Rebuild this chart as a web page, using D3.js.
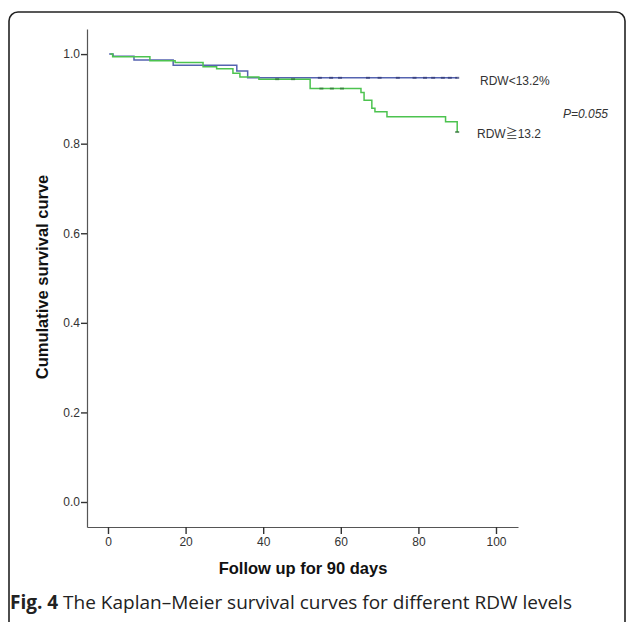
<!DOCTYPE html>
<html>
<head>
<meta charset="utf-8">
<script src="https://cdn.jsdelivr.net/npm/d3@7"></script>
<style>
  body { margin: 0; background: #fff; }
  svg { display: block; }
  .tick text { font-family: Arial, "Liberation Sans", sans-serif; font-size: 12px; fill: #333; }
</style>
</head>
<body>
<script>
(function() {

//data: follow-up day and cumulative survival
    var lowTimes = [0.3, 1.3, 6.7, 16.8, 33.2, 36, 90];
    var lowSurv = [1.0, 0.995, 0.987, 0.975, 0.962, 0.947, 0.947];
    var highTimes = [0.6, 1.2, 10.8, 17.3, 24.5, 28, 32.2, 34, 38.9, 52.1, 65.2, 66, 68, 68.8, 71.9, 87, 90];
    var highSurv = [1.0, 0.994, 0.985, 0.981, 0.972, 0.967, 0.957, 0.949, 0.944, 0.923, 0.914, 0.897, 0.879, 0.871, 0.860, 0.849, 0.826];
    //censored cases
    var lowCensor = [54.6, 57.5, 59.8, 67, 70, 74.7, 79, 81.7, 83.8, 86.3, 88.1, 90];
    var highCensor = [43.6, 47.7, 55, 57.7, 60.3, 90];

    var xTicks = [0, 20, 40, 60, 80, 100];
    var yTicks = [0.0, 0.2, 0.4, 0.6, 0.8, 1.0];
    var seriesLabels = ["RDW<13.2%", "RDW\u226713.2"];

    var width = 627, height = 622;

    var svg = d3.select("body").append("svg")
        .attr("width", width)
        .attr("height", height);

    //rounded frame round the figure
    svg.append("rect")
        .attr("x", 9).attr("y", 12)
        .attr("width", 616).attr("height", 622)
        .attr("rx", 9).attr("ry", 9)
        .attr("fill", "none")
        .attr("stroke", "#222")
        .attr("stroke-width", 1.6);

    var x = d3.scaleLinear().domain([-5.41, 105.67]).range([87, 518]);
    var y = d3.scaleLinear().domain([-0.0558, 1.056]).range([527, 29]);

    //axes
    var xAxis = svg.append("g")
        .attr("transform", "translate(0,527)")
        .call(d3.axisBottom(x).tickValues(xTicks).tickSize(7).tickSizeOuter(0).tickPadding(3));
    var yAxis = svg.append("g")
        .attr("transform", "translate(87,0)")
        .call(d3.axisLeft(y).tickValues(yTicks).tickSize(6).tickSizeOuter(0).tickPadding(1)
            .tickFormat(d3.format(".1f")));
    [xAxis, yAxis].forEach(function(g) {
        g.select(".domain").attr("stroke", "#555").attr("stroke-width", 1.2);
        g.selectAll(".tick line").attr("stroke", "#333").attr("stroke-width", 1.4);
    });

    //axis titles
    svg.append("text")
        .attr("x", 303).attr("y", 574)
        .attr("text-anchor", "middle")
        .style("font-family", "Arial, 'Liberation Sans', sans-serif")
        .style("font-weight", "bold").style("font-size", "16.5px").style("fill", "#111")
        .text("Follow up for 90 days");
    svg.append("text")
        .attr("transform", "translate(48,277) rotate(-90)")
        .attr("text-anchor", "middle")
        .style("font-family", "Arial, 'Liberation Sans', sans-serif")
        .style("font-weight", "bold").style("font-size", "16.5px").style("fill", "#111")
        .text("Cumulative survival curve");

    //step line generator
    var line = d3.line()
        .x(function(d) { return x(d[0]); })
        .y(function(d) { return y(d[1]); })
        .curve(d3.curveStepAfter);

    function survAt(times, surv, t) {
        var s = surv[0];
        for (var i = 0; i < times.length; i++) {
            if (times[i] <= t) s = surv[i];
        }
        return s;
    }

    var series = [
        {times: lowTimes, surv: lowSurv, censor: lowCensor, color: "#5563b0", mark: "#2c3570"},
        {times: highTimes, surv: highSurv, censor: highCensor, color: "#4cc34f", mark: "#2f6f35"}
    ];

    series.forEach(function(s) {
        svg.append("path")
            .datum(d3.zip(s.times, s.surv))
            .attr("fill", "none")
            .attr("stroke", s.color)
            .attr("stroke-width", 1.5)
            .attr("d", line);

        svg.selectAll(null)
            .data(s.censor)
            .enter()
            .append("rect")
            .attr("x", function(t) { return x(t) - 2; })
            .attr("y", function(t) { return y(survAt(s.times, s.surv, t)) - 1; })
            .attr("width", 4).attr("height", 2)
            .attr("fill", s.mark)
            .attr("opacity", 0.7);
    });

    //series labels
    var labelFont = "Arial, 'Liberation Sans', 'Noto Sans CJK SC', sans-serif";
    svg.append("text")
        .attr("x", 480).attr("y", 85)
        .style("font-family", labelFont).style("font-size", "12px").style("fill", "#333")
        .text(seriesLabels[0]);
    svg.append("text")
        .attr("x", 477).attr("y", 138)
        .style("font-family", labelFont).style("font-size", "12px").style("fill", "#333")
        .text(seriesLabels[1]);
    svg.append("text")
        .attr("x", 563).attr("y", 118)
        .style("font-family", labelFont).style("font-size", "12px").style("font-style", "italic").style("fill", "#333")
        .text("P=0.055");

    //figure caption
    var cap = svg.append("text")
        .attr("x", 10).attr("y", 609)
        .style("font-family", "'Open Sans', sans-serif").style("font-size", "19px").style("fill", "#222");
    cap.append("tspan").style("font-weight", "bold").text("Fig. 4");
    cap.append("tspan").text(" The Kaplan\u2013Meier survival curves for different RDW levels");

})();
</script>
</body>
</html>
